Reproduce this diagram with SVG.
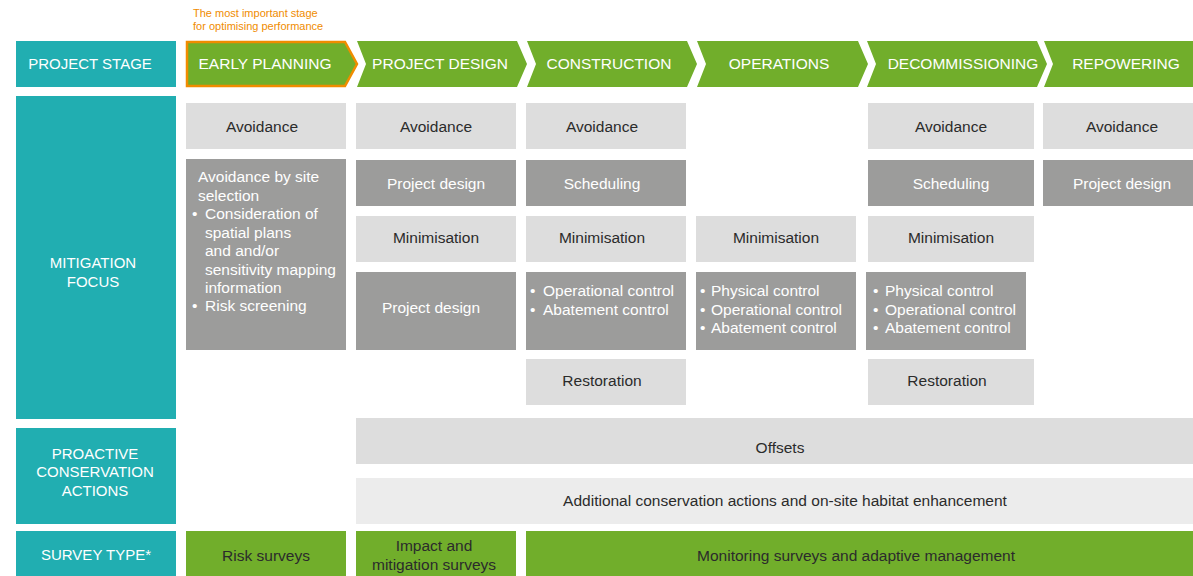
<svg xmlns="http://www.w3.org/2000/svg" width="1193" height="576" viewBox="0 0 1193 576">
<style>
text{font-family:"Liberation Sans",Arial,sans-serif;}
.teal{fill:#21aeb1;}
.green{fill:#71ae2b;}
.lg{fill:#dddddd;}
.xlg{fill:#ececec;}
.dg{fill:#9c9c9b;}
.hd{fill:#ffffff;font-size:15.5px;text-anchor:middle;}
.lab{fill:#ffffff;font-size:15px;text-anchor:middle;}
.dk{fill:#2b2b2b;font-size:15.5px;text-anchor:middle;}
.wt{fill:#ffffff;font-size:15.5px;text-anchor:middle;}
.wl{fill:#ffffff;font-size:15.5px;}
.note{fill:#f08c00;font-size:11px;}
</style>
<rect width="1193" height="576" fill="#ffffff"/>
<g id="note">
<text class="note" x="193" y="17">The most important stage</text>
<text class="note" x="193" y="30">for optimising performance</text>
</g>
<g id="row-labels">
<g id="lbl-stage"><rect class="teal" x="16" y="41" width="160" height="46"/><text class="lab" x="90" y="69">PROJECT STAGE</text></g>
<g id="lbl-mitigation"><rect class="teal" x="16" y="96" width="160" height="323"/><text class="lab" x="93" y="268">MITIGATION</text><text class="lab" x="93" y="287">FOCUS</text></g>
<g id="lbl-proactive"><rect class="teal" x="16" y="428" width="160" height="96"/><text class="lab" x="95" y="459">PROACTIVE</text><text class="lab" x="95" y="477">CONSERVATION</text><text class="lab" x="95" y="496">ACTIONS</text></g>
<g id="lbl-survey"><rect class="teal" x="16" y="531" width="160" height="45"/><text class="lab" x="96" y="560">SURVEY TYPE*</text></g>
</g>
<g id="stages">
<g id="st-early"><polygon points="187,42 345,42 357,64 345,86 187,86" fill="#71ae2b" stroke="#f08c00" stroke-width="2.5"/><text class="hd" x="265" y="69">EARLY PLANNING</text></g>
<g id="st-design"><polygon class="green" points="357,41 517,41 527,64 517,87 357,87 366,64"/><text class="hd" x="440" y="69">PROJECT DESIGN</text></g>
<g id="st-construction"><polygon class="green" points="527,41 687,41 697,64 687,87 527,87 536,64"/><text class="hd" x="609" y="69">CONSTRUCTION</text></g>
<g id="st-operations"><polygon class="green" points="697,41 858,41 868,64 858,87 697,87 706,64"/><text class="hd" x="779" y="69">OPERATIONS</text></g>
<g id="st-decom"><polygon class="green" points="867,41 1037,41 1047,64 1037,87 867,87 876,64"/><text class="hd" x="963" y="69">DECOMMISSIONING</text></g>
<g id="st-repower"><polygon class="green" points="1044,41 1193,41 1193,87 1044,87 1053,64"/><text class="hd" x="1126" y="69">REPOWERING</text></g>
</g>
<g id="mitigation">
<g id="ep-avoid"><rect class="lg" x="186" y="103" width="160" height="46"/><text class="dk" x="262" y="132">Avoidance</text></g>
<g id="ep-site"><rect class="dg" x="186" y="159" width="160" height="191"/>
<text class="wl" x="198" y="182">Avoidance by site</text>
<text class="wl" x="198" y="201">selection</text>
<text class="wl" x="192" y="219">•</text><text class="wl" x="205" y="219">Consideration of</text>
<text class="wl" x="205" y="238">spatial plans</text>
<text class="wl" x="205" y="256">and and/or</text>
<text class="wl" x="205" y="275">sensitivity mapping</text>
<text class="wl" x="205" y="293">information</text>
<text class="wl" x="192" y="311">•</text><text class="wl" x="205" y="311">Risk screening</text>
</g>
<g id="pd-avoid"><rect class="lg" x="356" y="103" width="160" height="46"/><text class="dk" x="436" y="132">Avoidance</text></g>
<g id="pd-design"><rect class="dg" x="356" y="160" width="160" height="46"/><text class="wt" x="436" y="189">Project design</text></g>
<g id="pd-min"><rect class="lg" x="356" y="216" width="160" height="46"/><text class="dk" x="436" y="243">Minimisation</text></g>
<g id="pd-design2"><rect class="dg" x="356" y="272" width="160" height="78"/><text class="wt" x="431" y="313">Project design</text></g>
<g id="co-avoid"><rect class="lg" x="526" y="103" width="160" height="46"/><text class="dk" x="602" y="132">Avoidance</text></g>
<g id="co-sched"><rect class="dg" x="526" y="160" width="160" height="46"/><text class="wt" x="602" y="189">Scheduling</text></g>
<g id="co-min"><rect class="lg" x="526" y="216" width="160" height="46"/><text class="dk" x="602" y="243">Minimisation</text></g>
<g id="co-ctrl"><rect class="dg" x="526" y="272" width="160" height="78"/>
<text class="wl" x="530" y="296">•</text><text class="wl" x="543" y="296">Operational control</text>
<text class="wl" x="530" y="315">•</text><text class="wl" x="543" y="315">Abatement control</text>
</g>
<g id="co-rest"><rect class="lg" x="526" y="359" width="160" height="46"/><text class="dk" x="602" y="386">Restoration</text></g>
<g id="op-min"><rect class="lg" x="696" y="216" width="160" height="46"/><text class="dk" x="776" y="243">Minimisation</text></g>
<g id="op-ctrl"><rect class="dg" x="696" y="272" width="160" height="78"/>
<text class="wl" x="700" y="296">•</text><text class="wl" x="711" y="296">Physical control</text>
<text class="wl" x="700" y="315">•</text><text class="wl" x="711" y="315">Operational control</text>
<text class="wl" x="700" y="333">•</text><text class="wl" x="711" y="333">Abatement control</text>
</g>
<g id="de-avoid"><rect class="lg" x="868" y="103" width="166" height="46"/><text class="dk" x="951" y="132">Avoidance</text></g>
<g id="de-sched"><rect class="dg" x="868" y="160" width="166" height="46"/><text class="wt" x="951" y="189">Scheduling</text></g>
<g id="de-min"><rect class="lg" x="868" y="216" width="166" height="46"/><text class="dk" x="951" y="243">Minimisation</text></g>
<g id="de-ctrl"><rect class="dg" x="866" y="272" width="160" height="78"/>
<text class="wl" x="873" y="296">•</text><text class="wl" x="885" y="296">Physical control</text>
<text class="wl" x="873" y="315">•</text><text class="wl" x="885" y="315">Operational control</text>
<text class="wl" x="873" y="333">•</text><text class="wl" x="885" y="333">Abatement control</text>
</g>
<g id="de-rest"><rect class="lg" x="868" y="359" width="166" height="46"/><text class="dk" x="947" y="386">Restoration</text></g>
<g id="re-avoid"><rect class="lg" x="1043" y="103" width="150" height="46"/><text class="dk" x="1122" y="132">Avoidance</text></g>
<g id="re-design"><rect class="dg" x="1043" y="160" width="150" height="46"/><text class="wt" x="1122" y="189">Project design</text></g>
</g>
<g id="proactive">
<g id="offsets"><rect class="lg" x="356" y="418" width="837" height="46"/><text class="dk" x="780" y="453">Offsets</text></g>
<g id="additional"><rect class="xlg" x="356" y="478" width="837" height="46"/><text class="dk" x="785" y="506">Additional conservation actions and on-site habitat enhancement</text></g>
</g>
<g id="surveys">
<g id="sv-risk"><rect class="green" x="186" y="531" width="160" height="45"/><text class="dk" x="266" y="561">Risk surveys</text></g>
<g id="sv-impact"><rect class="green" x="356" y="531" width="160" height="45"/><text class="dk" x="434" y="551">Impact and</text><text class="dk" x="434" y="570">mitigation surveys</text></g>
<g id="sv-monitor"><rect class="green" x="526" y="531" width="667" height="45"/><text class="dk" x="856" y="561">Monitoring surveys and adaptive management</text></g>
</g>
<g id="connectors"></g>
</svg>
